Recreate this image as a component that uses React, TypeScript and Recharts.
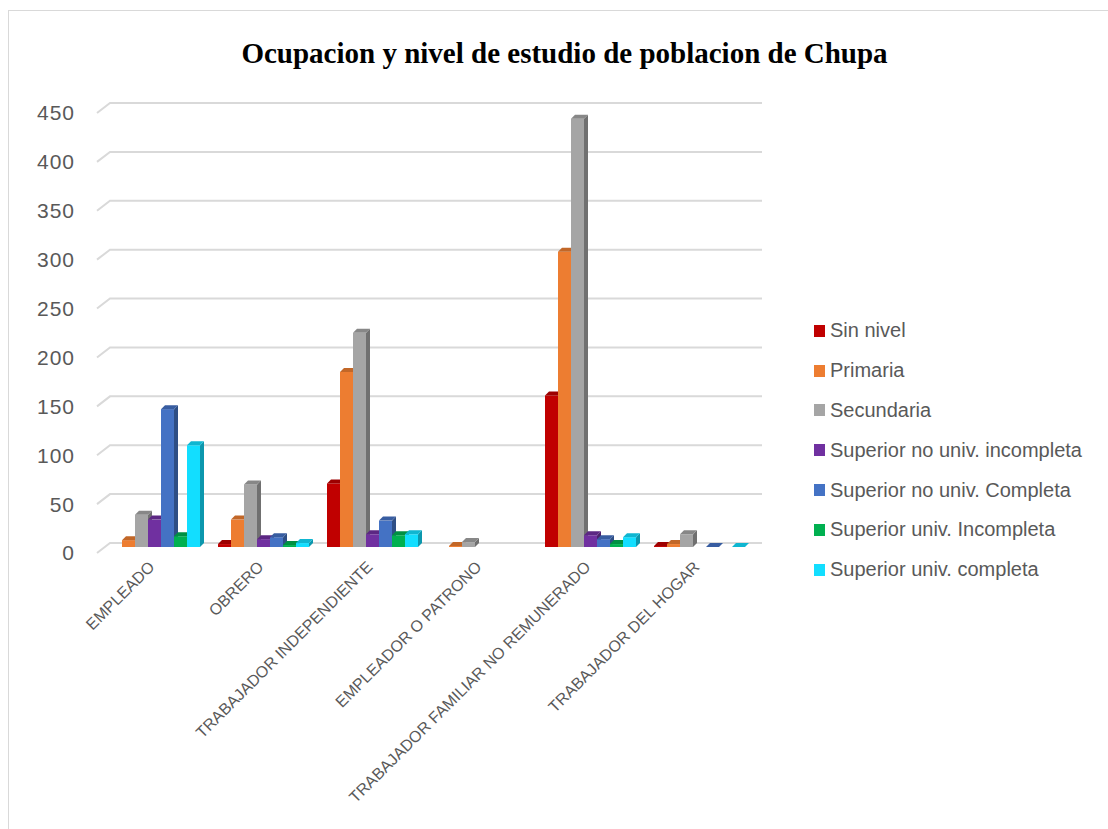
import { Bar, BarChart, CartesianGrid, Legend, XAxis, YAxis } from "recharts";

const categories = [
  "EMPLEADO",
  "OBRERO",
  "TRABAJADOR INDEPENDIENTE",
  "EMPLEADOR O PATRONO",
  "TRABAJADOR FAMILIAR NO REMUNERADO",
  "TRABAJADOR DEL HOGAR",
];

// null = no bar drawn at all, 0 = flat bar (only top face)
const sinNivel = [null, 3, 65, null, 155, 1];
const primaria = [7, 28, 179, 1, 302, 3];
const secundaria = [33, 64, 219, 5, 438, 13];
const supNoUnivIncompleta = [28, 8, 13, null, 12, null];
const supNoUnivCompleta = [141, 10, 27, null, 8, 0];
const supUnivIncompleta = [11, 2, 12, null, 3, null];
const supUnivCompleta = [104, 4, 13, null, 10, 0];

const seriesNames = [
  "Sin nivel",
  "Primaria",
  "Secundaria",
  "Superior no univ. incompleta",
  "Superior no univ. Completa",
  "Superior univ. Incompleta",
  "Superior univ. completa",
];
const seriesColors = ["#C00000", "#ED7D31", "#A5A5A5", "#7030A0", "#4472C4", "#00B050", "#12DEFF"];
const seriesValues = [
  sinNivel,
  primaria,
  secundaria,
  supNoUnivIncompleta,
  supNoUnivCompleta,
  supUnivIncompleta,
  supUnivCompleta,
];
const seriesKeys = seriesNames.map((_, i) => `s${i}`);

const yTicks = [0, 50, 100, 150, 200, 250, 300, 350, 400, 450];

const data = categories.map((name, i) => {
  const row: Record<string, string | number | null> = { name };
  seriesValues.forEach((vals, s) => {
    row[seriesKeys[s]] = vals[i];
  });
  return row;
});

const FONT = "'Liberation Sans', Arial, sans-serif";
const TEXT = "#595959";
const DX = 4;
const DY = 4;

function shade(hex: string, f: number) {
  const n = parseInt(hex.slice(1), 16);
  const r = Math.round(((n >> 16) & 255) * f);
  const g = Math.round(((n >> 8) & 255) * f);
  const b = Math.round((n & 255) * f);
  return `rgb(${r},${g},${b})`;
}

function Bar3D(props: any) {
  const { x, y, width, height, fill, payload, k } = props;
  if (!payload || payload[k] == null || !Number.isFinite(y)) return <g />;
  const h = Math.max(0, height);
  const top = y + DY;
  const bottom = y + h + DY;
  return (
    <g>
      <rect x={x} y={top} width={width} height={h} fill={fill} />
      <polygon
        points={`${x + width},${top} ${x + width + DX},${y} ${x + width + DX},${y + h} ${x + width},${bottom}`}
        fill={shade(fill, 0.68)}
      />
      <polygon
        points={`${x},${top} ${x + DX},${y} ${x + width + DX},${y} ${x + width},${top}`}
        fill={shade(fill, 0.82)}
      />
    </g>
  );
}

function GridLine(p: any) {
  return (
    <path
      key={`grid-${p.index}`}
      d={`M${p.x1 - 3},${p.y1 + 10} L${p.x1 + 10},${p.y1} L${p.x2 + 8},${p.y1}`}
      stroke="#d9d9d9"
      strokeWidth={2}
      fill="none"
    />
  );
}

function YTick(p: any) {
  return (
    <text
      x={p.x}
      y={p.y + 10}
      dy="0.355em"
      textAnchor="end"
      fontSize={21}
      letterSpacing={1}
      fill={TEXT}
      fontFamily={FONT}
    >
      {p.payload.value}
    </text>
  );
}

function XTick(p: any) {
  const ax = p.x + 1;
  const ay = p.y + 17;
  return (
    <text
      x={ax}
      y={ay}
      textAnchor="end"
      fontSize={16}
      fill={TEXT}
      fontFamily={FONT}
      transform={`rotate(-45, ${ax}, ${ay})`}
    >
      {p.payload.value}
    </text>
  );
}

function LegendList() {
  return (
    <div style={{ fontFamily: FONT, fontSize: 20, color: TEXT }}>
      {seriesNames.map((name, i) => (
        <div key={name} style={{ display: "flex", alignItems: "center", height: 39.8, whiteSpace: "nowrap" }}>
          <span
            style={{ display: "inline-block", width: 11, height: 12, background: seriesColors[i], marginRight: 5 }}
          />
          {name}
        </div>
      ))}
    </div>
  );
}

export default function App() {
  return (
    <div
      style={{
        position: "absolute",
        left: 8,
        top: 10,
        width: 1100,
        height: 819,
        borderLeft: "1px solid #d9d9d9",
        borderTop: "1px solid #d9d9d9",
        boxSizing: "border-box",
        background: "#fff",
      }}
    >
      <div
        style={{
          position: "absolute",
          left: 0,
          top: 28,
          width: 1111,
          textAlign: "center",
          fontFamily: "'Liberation Serif', 'Times New Roman', serif",
          fontWeight: "bold",
          fontSize: 29,
          lineHeight: "29px",
          color: "#000",
        }}
      >
        Ocupacion y nivel de estudio de poblacion de Chupa
      </div>
      <BarChart
        width={1099}
        height={818}
        data={data}
        margin={{ top: 92, right: 354, bottom: 285, left: 0 }}
        barSize={13}
        barGap={0}
      >
        <CartesianGrid vertical={false} horizontal={GridLine} />
        <XAxis dataKey="name" interval={0} tickLine={false} axisLine={false} height={1} tick={XTick} />
        <YAxis
          domain={[0, 450]}
          ticks={yTicks}
          width={91}
          tickLine={false}
          axisLine={false}
          tickSize={0}
          tickMargin={25}
          tick={YTick}
        />
        <Legend
          layout="vertical"
          align="center"
          verticalAlign="middle"
          content={LegendList}
          wrapperStyle={{ left: 805, top: 300, width: 290 }}
        />
        {seriesKeys.map((key, i) => (
          <Bar
            key={key}
            dataKey={key}
            name={seriesNames[i]}
            fill={seriesColors[i]}
            isAnimationActive={false}
            shape={(p: any) => <Bar3D {...p} k={key} />}
          />
        ))}
      </BarChart>
    </div>
  );
}
